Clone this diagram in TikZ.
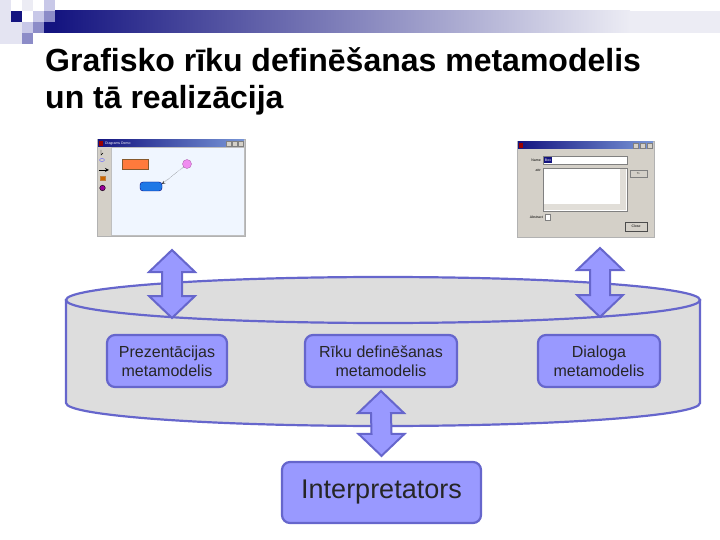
\documentclass[tikz,border=0pt]{standalone}
\usepackage{fontspec}
\setmainfont{Liberation Sans}
\usetikzlibrary{positioning,calc}
\pgfdeclarelayer{background}
\pgfdeclarelayer{foreground}
\pgfsetlayers{background,main,foreground}
\definecolor{boxfill}{RGB}{153,153,255}
\definecolor{boxline}{RGB}{102,102,204}
\definecolor{cylfill}{RGB}{221,221,221}
\definecolor{navy}{RGB}{20,20,128}
\definecolor{barend}{RGB}{236,236,244}
\definecolor{sqpale}{RGB}{228,228,242}
\definecolor{sqlight}{RGB}{200,200,232}
\definecolor{sqmid}{RGB}{140,140,200}
\definecolor{winbody}{RGB}{212,208,200}
\definecolor{wincanvas}{RGB}{240,246,255}
\definecolor{titlelight}{RGB}{120,150,215}

% fat double arrow between two tips (#1 above, #2 below)
\newcommand{\fatarrow}[2]{%
  \filldraw[fatarrow] (#1) -- ($(#1)+(23,22)$) -- ($(#1)+(10,22)$) -- ($(#2)+(10,-22)$)
    -- ($(#2)+(23,-22)$) -- (#2) -- ($(#2)+(-23,-22)$) -- ($(#2)+(-10,-22)$)
    -- ($(#1)+(-10,22)$) -- ($(#1)+(-23,22)$) -- cycle;}

\begin{document}
\begin{tikzpicture}[x=1pt,y=-1pt,
						modelnode/.style={draw=boxline, fill=boxfill, line width=2.2pt, rounded corners=8pt,
							align=center, text=black!85, font=\fontsize{16}{19}\selectfont,
							minimum height=52pt, inner sep=2pt},
						fatarrow/.style={draw=boxline, fill=boxfill, line width=2pt, line join=miter},
						titletext/.style={anchor=base west, inner sep=0pt, font=\fontsize{32}{37}\selectfont\bfseries},
						tinytext/.style={inner sep=0pt, font=\fontsize{3.5}{4}\selectfont},
						]
						\useasboundingbox (0,0) rectangle (720,540);

						%Decoration
						\foreach \c/\r/\col in {0/0/sqpale,0/1/sqpale,0/2/sqpale,0/3/sqpale,1/2/sqpale,1/3/sqpale,
							1/1/navy,2/0/barend,3/1/sqlight,4/0/sqlight,4/1/sqmid,4/2/navy,
							2/2/sqlight,3/2/sqmid,2/3/sqmid}
							\fill[\col] (\c*11,\r*11) rectangle ++(11,11);
						\shade[left color=navy, right color=barend] (55,11) rectangle (630,33);
						\fill[barend] (630,11) rectangle (720,33);

						%Title
						\node[titletext] (title1) at (45,72) {Grafisko rīku definēšanas metamodelis};
						\node[titletext] (title2) at (45,109) {un tā realizācija};

						%Screenshot of the diagram editor
						\begin{scope}[shift={(97,139)}]
						\filldraw[fill=winbody, draw=gray!60] (0,0) rectangle (148,97);
						\shade[left color=navy, right color=titlelight] (1,1) rectangle (147,8);
						\fill[red!60!black] (2,2) rectangle (6,7);
						\node[tinytext, text=white, anchor=west] (titleL) at (8,4.5) {Diagrams Demo};
						\foreach \x in {129,135,141}
							\filldraw[fill=winbody, draw=gray] (\x,2) rectangle ++(5,5);
						\filldraw[fill=wincanvas, draw=gray!50] (14,8) rectangle (147,96);
						\draw[black] (4,11) -- (4,16) -- (6,14);
						\draw[blue!60] (5,21) ellipse (2.5 and 1.5);
						\draw[black, thick, -stealth] (1.5,31) -- (12,31);
						\filldraw[fill=orange!80!black, draw=brown] (3,37) rectangle (8,41);
						\filldraw[fill=violet!80!magenta] (5.5,49) circle (2.8);
						\filldraw[fill={rgb,255:red,255;green,122;blue,60}, draw=brown!70!black] (25,20) rectangle (51,30);
						\filldraw[fill={rgb,255:red,30;green,120;blue,230}, draw=blue!50!black, rounded corners=3pt] (43,43) rectangle (65,52);
						\filldraw[fill={rgb,255:red,240;green,140;blue,240}, draw=violet!60] (90,25) circle (4.5);
						\draw[densely dotted, gray!30!black, -stealth] (86.5,28) -- (65,45);
						\end{scope}

						%Screenshot of the dialog
						\begin{scope}[shift={(517,141)}]
						\filldraw[fill=winbody, draw=gray!60] (0,0) rectangle (137,96);
						\shade[left color=navy, right color=titlelight] (1,1) rectangle (136,8);
						\fill[red!60!black] (2,2) rectangle (6,7);
						\foreach \x in {116,123,130}
							\filldraw[fill=winbody, draw=gray] (\x,2) rectangle ++(5,5);
						\node[tinytext, anchor=east] (nameL) at (24,19) {Name};
						\filldraw[fill=white, draw=gray] (26,15) rectangle (110,23);
						\fill[navy] (27,16) rectangle (35,22);
						\node[tinytext, text=white] (boxL) at (31,19) {Box};
						\node[tinytext, anchor=east] (attrL) at (24,29) {attr};
						\filldraw[fill=white, draw=gray] (26,27) rectangle (110,70);
						\fill[winbody!70] (103,28) rectangle (109,63);
						\fill[winbody!70] (27,63) rectangle (109,69);
						\filldraw[fill=winbody, draw=gray] (113,29) rectangle (130,36);
						\node[tinytext] (backL) at (121.5,32.5) {<-};
						\node[tinytext, anchor=east] (absL) at (26,76) {Abstract};
						\filldraw[fill=white, draw=gray] (28,73) rectangle (33,79);
						\filldraw[fill=winbody, draw=black!70] (108,81) rectangle (130,90);
						\node[tinytext] (closeL) at (119,85.5) {Close};
						\end{scope}

						\begin{pgfonlayer}{background}
						%Cylinder
						\filldraw[fill=cylfill, draw=boxline, line width=2.2pt]
							(66,300) -- (66,403) arc[start angle=180, end angle=0, x radius=317, y radius=23]
							-- (700,300) -- cycle;
						\filldraw[fill=cylfill, draw=boxline, line width=2.2pt] (383,300) ellipse (317 and 23);
						\end{pgfonlayer}

						%Nodes
						\node[modelnode, minimum width=120pt] (prez) 	at (167,361) 	{Prezentācijas\\metamodelis};
						\node[modelnode, minimum width=152pt] (riku) 	at (381,361) 	{Rīku definēšanas\\metamodelis};
						\node[modelnode, minimum width=122pt] (dial) 	at (599,361) 	{Dialoga\\metamodelis};
						\node[modelnode, minimum width=199pt, minimum height=61pt, font=\fontsize{27}{32}\selectfont]
											(interp) 	at (381.5,492.5) 	{Interpretators};

						\coordinate (shotLlow) 	at (172,250);
						\coordinate (cylL) 		at (172,318);
						\coordinate (shotRlow) 	at (600,248);
						\coordinate (cylR) 		at (600,317);

						%Lines
						\fatarrow{shotLlow}{cylL}
						\fatarrow{shotRlow}{cylR}
						\fatarrow{$(riku.south)+(0,3)$}{$(interp.north)+(0,-5)$}
					\end{tikzpicture}
\end{document}
